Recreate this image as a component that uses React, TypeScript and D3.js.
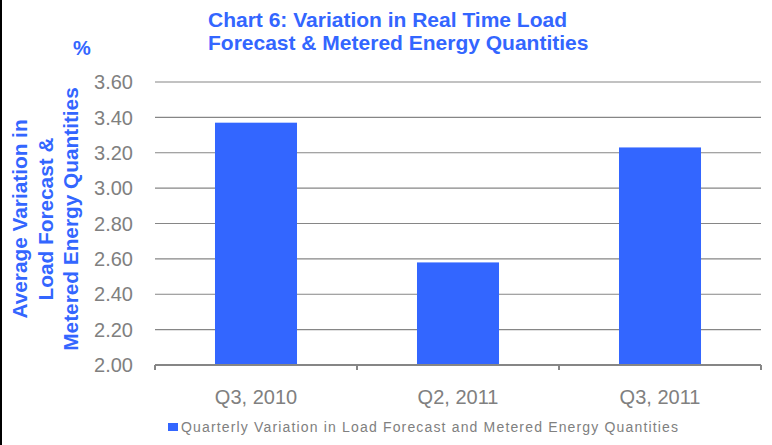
import React, { useRef, useEffect } from 'react';
import * as d3 from 'd3';

const categories = ['Q3, 2010', 'Q2, 2011', 'Q3, 2011'];
const values = [3.37, 2.58, 3.23];
const yTicks = [2.0, 2.2, 2.4, 2.6, 2.8, 3.0, 3.2, 3.4, 3.6];
const titleLines = ['Chart 6: Variation in Real Time Load', 'Forecast & Metered Energy Quantities'];
const yTitleLines = ['Average Variation in', 'Load Forecast &', 'Metered Energy Quantities'];
const legendLabel = 'Quarterly Variation in Load Forecast and Metered Energy Quantities';

const W = 772;
const H = 445;
const BLUE = '#3366FF';
const GREY = '#868686';
const FONT = 'Arial, "Liberation Sans", sans-serif';

const App = () => {
  const svgRef = useRef<SVGSVGElement>(null);

  useEffect(() => {
    const svg = d3.select(svgRef.current);
    svg.selectAll('*').remove();

    const left = 155, right = 761, top = 82, bottom = 365;

    const x = d3.scaleBand().domain(categories).range([left, right]).paddingInner(0.594).paddingOuter(0.297);
    const y = d3.scaleLinear().domain([2, 3.6]).range([bottom, top]);

    svg.append('rect').attr('x', 0).attr('y', 0).attr('width', 2).attr('height', H).attr('fill', '#000');

    // gridlines
    svg.selectAll('line.grid')
      .data(yTicks.slice(1))
      .enter()
      .append('line')
      .attr('x1', left).attr('x2', right)
      .attr('y1', (d) => y(d)).attr('y2', (d) => y(d))
      .attr('stroke', GREY).attr('stroke-width', 1.2);

    // bars
    svg.selectAll('rect.bar')
      .data(values)
      .enter()
      .append('rect')
      .attr('x', (d, i) => x(categories[i]) as number)
      .attr('width', x.bandwidth())
      .attr('y', (d) => y(d))
      .attr('height', (d) => y(2) - y(d))
      .attr('fill', BLUE);

    // x axis baseline + ticks
    svg.append('line')
      .attr('x1', left).attr('x2', right)
      .attr('y1', bottom).attr('y2', bottom)
      .attr('stroke', GREY).attr('stroke-width', 2);
    const step = x.step();
    svg.selectAll('line.xtick')
      .data(d3.range(categories.length + 1))
      .enter()
      .append('line')
      .attr('x1', (i) => left + i * step).attr('x2', (i) => left + i * step)
      .attr('y1', bottom).attr('y2', bottom + 5)
      .attr('stroke', GREY).attr('stroke-width', 2);

    // y tick labels
    svg.selectAll('text.ylab')
      .data(yTicks)
      .enter()
      .append('text')
      .text((d) => d.toFixed(2))
      .attr('x', 133)
      .attr('y', (d) => y(d))
      .attr('dy', '0.36em')
      .attr('text-anchor', 'end')
      .attr('fill', '#808080')
      .style('font', `20px ${FONT}`);

    // x labels
    svg.selectAll('text.xlab')
      .data(categories)
      .enter()
      .append('text')
      .text((d) => d)
      .attr('x', (d) => (x(d) as number) + x.bandwidth() / 2)
      .attr('y', 404)
      .attr('text-anchor', 'middle')
      .attr('fill', '#808080')
      .style('font', `20px ${FONT}`);

    // title
    titleLines.forEach((t, i) => {
      svg.append('text')
        .text(t)
        .attr('x', 208)
        .attr('y', 27 + i * 23)
        .attr('fill', BLUE)
        .style('font', `bold 21px ${FONT}`);
    });

    svg.append('text')
      .text('%')
      .attr('x', 73)
      .attr('y', 55)
      .attr('fill', BLUE)
      .style('font', `bold 20px ${FONT}`);

    // y axis title
    const yt = svg.append('g').attr('transform', 'translate(0,219) rotate(-90)');
    yTitleLines.forEach((t, i) => {
      yt.append('text')
        .text(t)
        .attr('x', 0)
        .attr('y', 27 + i * 25.5)
        .attr('text-anchor', 'middle')
        .attr('fill', BLUE)
        .style('font', `bold 20.8px ${FONT}`);
    });

    // legend
    svg.append('rect')
      .attr('x', 168).attr('y', 423)
      .attr('width', 10).attr('height', 8)
      .attr('fill', BLUE);
    svg.append('text')
      .text(legendLabel)
      .attr('x', 181)
      .attr('y', 432)
      .attr('fill', '#808080')
      .attr('textLength', 497)
      .attr('lengthAdjust', 'spacing')
      .style('font', `14px ${FONT}`);
  }, []);

  return (
    <svg
      ref={svgRef}
      width={W}
      height={H}
      style={{ position: 'absolute', left: 0, top: 0, display: 'block', background: '#fff' }}
    />
  );
};

export default App;
